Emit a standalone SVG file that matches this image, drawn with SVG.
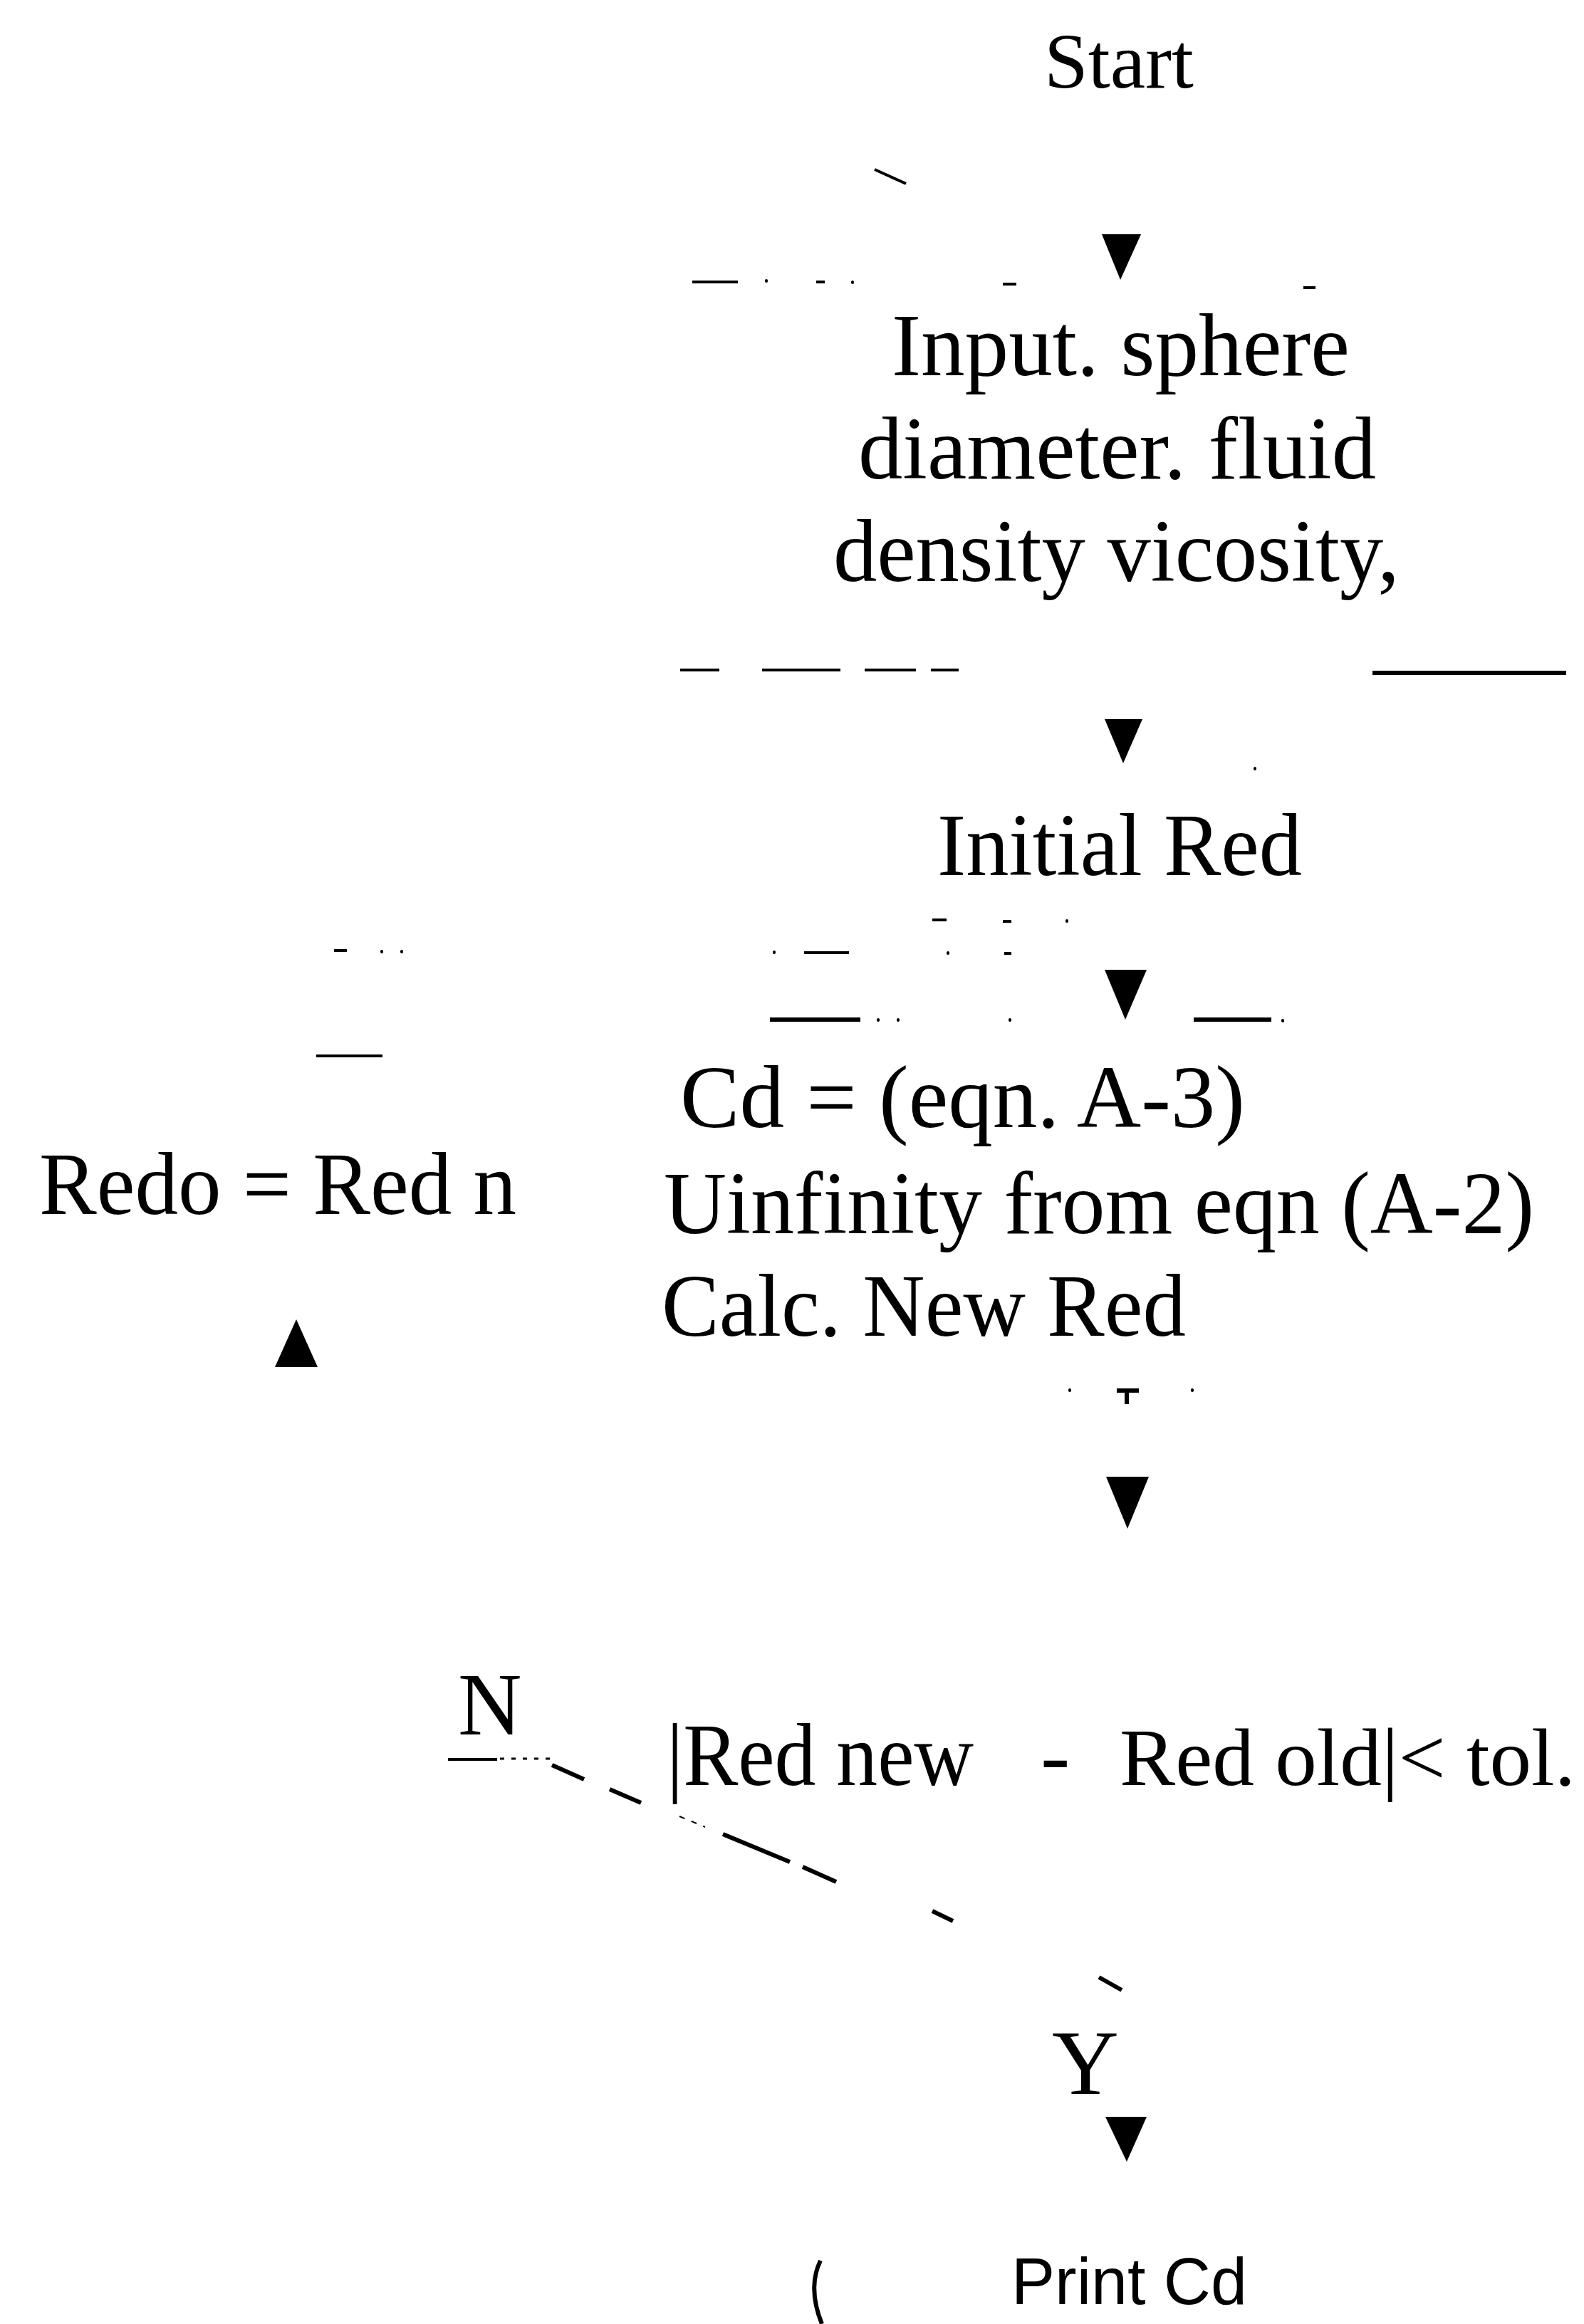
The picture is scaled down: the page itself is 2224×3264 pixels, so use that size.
<svg xmlns="http://www.w3.org/2000/svg" width="2224" height="3264" viewBox="0 0 2224 3264">
<style>
.t{font-family:"Liberation Serif","Times New Roman",serif;font-size:124px;fill:#000}
.s{font-family:"Liberation Sans",Arial,sans-serif;font-size:92px;fill:#000}
.ln{stroke:#000;stroke-width:4;fill:none;stroke-linecap:butt}
.th{stroke:#000;stroke-width:6;fill:none}
.dt{stroke:#000;stroke-width:4;fill:none;stroke-linecap:round}
.ah{fill:#000}
</style>
<rect width="2224" height="3264" fill="#fff"/>
<g id="start">
<text class="t" x="1466" y="123" style="font-size:110px" textLength="210" lengthAdjust="spacingAndGlyphs">Start</text>
</g>
<g id="input">
<text class="t" x="1252" y="527" textLength="643" lengthAdjust="spacingAndGlyphs">Input. sphere</text>
<text class="t" x="1205" y="672" textLength="727" lengthAdjust="spacingAndGlyphs">diameter. fluid</text>
<text class="t" x="1170" y="816" textLength="795" lengthAdjust="spacingAndGlyphs">density vicosity,</text>
<path class="ln" d="M972 396H1036M1146 396H1158M1408 399H1427M1830 404H1847"/>
<path class="dt" d="M1076 394v1M1197 396v1"/>
<path class="ln" d="M955 941H1010M1070 941H1180M1214 941H1286M1307 941H1346"/>
<path class="th" d="M1927 945H2199"/>
</g>
<g id="initial">
<text class="t" x="1316" y="1229" textLength="512" lengthAdjust="spacingAndGlyphs">Initial Red</text>
<path class="ln" d="M1309 1292H1329M1408 1294H1420M1129 1338H1192M1410 1339H1420"/>
<path class="dt" d="M1498 1293v1M1087 1337v1M1331 1338v1M1762 1079v1"/>
</g>
<g id="calc">
<text class="t" x="955" y="1583" textLength="793" lengthAdjust="spacingAndGlyphs">Cd = (eqn. A-3)</text>
<text class="t" x="932" y="1732" textLength="1222" lengthAdjust="spacingAndGlyphs">Uinfinity from eqn (A-2)</text>
<text class="t" x="929" y="1876" textLength="736" lengthAdjust="spacingAndGlyphs">Calc. New Red</text>
<path class="th" d="M1081 1432H1208M1676 1432H1785"/>
<path class="dt" d="M1233 1432v1M1261 1432v1M1418 1432v1M1801 1433v1M1502 1952v1M1674 1952v1"/>
</g>
<g id="redo">
<text class="t" x="55" y="1705" textLength="670" lengthAdjust="spacingAndGlyphs">Redo = Red n</text>
<path class="ln" d="M444 1483H537M469 1335H487"/>
<path class="dt" d="M536 1336v1M564 1336v1"/>
</g>
<g id="decision">
<text class="t" x="643" y="2436">N</text>
<text class="t" x="936" y="2507" textLength="431" lengthAdjust="spacingAndGlyphs">|Red new</text>
<text class="t" x="1461" y="2507">-</text>
<text class="t" x="1572" y="2507" style="font-size:114px" textLength="640" lengthAdjust="spacingAndGlyphs">Red old|&lt; tol.</text>
<text class="t" x="1477" y="2941" style="font-size:130px">Y</text>
</g>
<g id="print">
<text class="s" x="1420" y="3236" textLength="331" lengthAdjust="spacingAndGlyphs">Print Cd</text>
<path class="th" d="M1152 3175C1142 3195 1138 3225 1154 3264"/>
</g>
<g id="connectors">
<path class="ln" d="M1228 238L1272 258"/>
<polygon class="ah" points="1547,329 1602,329 1573,393"/>
<polygon class="ah" points="1551,1010 1604,1010 1577,1072"/>
<polygon class="ah" points="1551,1362 1610,1362 1580,1432"/>
<path class="th" d="M1568 1953H1599M1582 1950V1972"/>
<polygon class="ah" points="1553,2074 1613,2074 1583,2147"/>
<polygon class="ah" points="386,1920 446,1920 416,1853"/>
<path class="ln" d="M629 2471H698"/>
<path class="ln" d="M702 2470H777" stroke-dasharray="6 10" style="stroke-width:3"/>
<path class="th" d="M775 2479L820 2499M856 2513L900 2532M1015 2576L1109 2615M1127 2622L1174 2643M1309 2684L1338 2698M1543 2777L1575 2795"/>
<path class="ln" d="M954 2551L990 2566" stroke-dasharray="8 10" style="stroke-width:2"/>
<polygon class="ah" points="1552,2973 1610,2973 1582,3036"/>
</g>
</svg>
